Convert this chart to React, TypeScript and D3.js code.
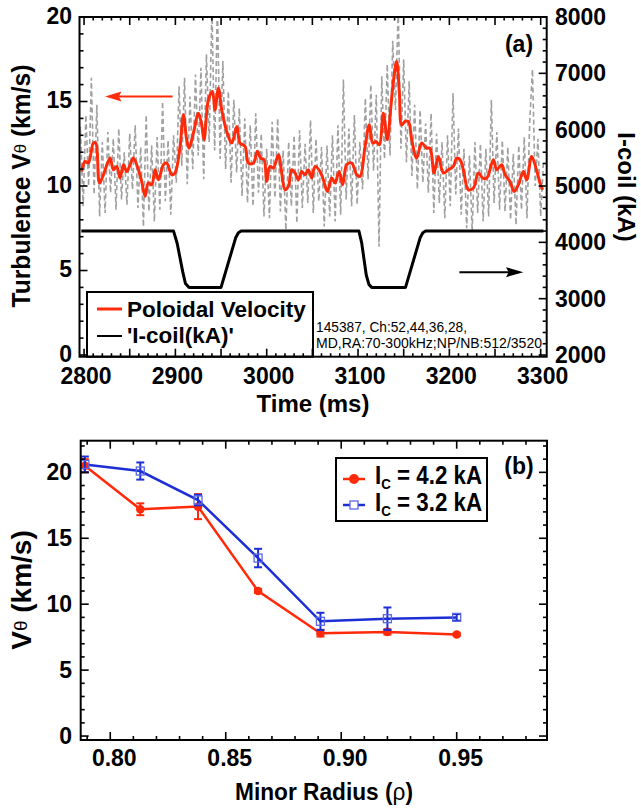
import React from "react";
import * as d3 from "d3";

// ---------------- Panel (a) data ----------------
const velTime = [
  2797.4, 2801.1, 2804.7, 2810.2, 2812.8, 2816.8, 2821.2, 2828.5, 2832.1, 2835.8,
  2839.4, 2843.1, 2846.7, 2850.4, 2854.0, 2859.5, 2863.1, 2866.8, 2870.4, 2874.1,
  2877.7, 2881.4, 2886.9, 2890.5, 2896.0, 2899.6, 2905.1, 2908.8, 2912.4, 2915.0,
  2919.7, 2925.2, 2928.8, 2931.4, 2936.1, 2940.5, 2943.4, 2947.1, 2950.7, 2956.2,
  2961.7, 2967.2, 2970.8, 2976.3, 2979.9, 2985.4, 2989.8, 2993.4, 2997.1, 3000.0,
  3003.6, 3007.3, 3012.8, 3016.4, 3020.1, 3023.7, 3027.4, 3031.0, 3034.7, 3038.3,
  3042.0, 3045.6, 3049.3, 3052.9, 3058.4, 3062.0, 3066.4, 3071.2, 3074.8, 3079.2,
  3083.2, 3087.6, 3093.1, 3098.5, 3102.2, 3107.7, 3112.4, 3116.1, 3119.7, 3123.4,
  3127.7, 3132.1, 3135.8, 3139.4, 3142.3, 3145.3, 3147.8, 3151.5, 3155.1, 3158.8,
  3164.2, 3169.7, 3175.2, 3178.8, 3183.2, 3188.0, 3193.4, 3198.9, 3204.4, 3208.0,
  3211.7, 3215.3, 3220.8, 3226.3, 3231.8, 3236.5, 3240.9, 3248.2, 3251.8, 3257.3,
  3261.0, 3266.4, 3270.8, 3275.6, 3281.0, 3284.7, 3290.1, 3294.9, 3299.3, 3302.2,
];
const velValue = [
  10.86, 11.45, 11.36, 12.54, 12.54, 10.18, 10.67, 11.65, 10.96, 11.16,
  10.47, 11.26, 10.86, 11.26, 11.65, 10.96, 10.27, 9.39, 10.18, 10.08,
  10.96, 10.37, 11.26, 11.36, 10.67, 10.77, 12.34, 14.21, 12.73, 12.24,
  13.13, 14.31, 13.62, 12.73, 15.10, 15.59, 14.51, 15.79, 14.51, 13.23,
  12.54, 13.52, 12.54, 12.34, 11.36, 11.36, 12.05, 11.65, 11.55, 10.27,
  11.16, 11.06, 11.85, 10.77, 9.78, 9.98, 10.96, 10.77, 10.37, 10.86,
  10.67, 10.96, 10.47, 11.16, 10.86, 10.37, 9.68, 10.47, 10.18, 10.86,
  10.08, 11.26, 11.36, 10.67, 10.57, 12.34, 13.62, 12.54, 12.64, 12.44,
  14.31, 12.73, 14.61, 16.48, 17.36, 15.49, 13.62, 13.82, 13.82, 12.73,
  11.65, 12.54, 12.24, 12.24, 10.77, 11.75, 10.77, 10.96, 11.16, 11.65,
  11.55, 10.96, 9.78, 9.88, 10.77, 10.47, 10.47, 11.55, 10.96, 11.26,
  10.67, 10.27, 9.68, 10.08, 10.86, 10.37, 11.75, 11.06, 10.18, 9.78,
];
// raw (unsmoothed) velocity, sampled every 3 ms from 2793 ms
const rawStart = 2793;
const rawStep = 3;
const rawValue = [
  9.0, 13.5, 8.8, 14.2, 10.0, 16.4, 9.5, 14.8, 8.2, 12.6,
  8.4, 13.2, 9.6, 12.8, 8.6, 13.4, 9.2, 12.0, 8.9, 13.1,
  9.8, 13.6, 8.7, 12.3, 7.6, 14.2, 8.5, 12.4, 7.9, 12.9,
  8.6, 15.0, 9.1, 12.7, 8.3, 13.0, 10.2, 15.9, 11.2, 16.4,
  10.1, 15.3, 11.0, 16.6, 11.8, 17.0, 10.4, 17.8, 12.6, 20.5,
  12.1, 20.8, 11.6, 17.4, 11.0, 15.6, 10.2, 15.1, 10.8, 14.6,
  9.4, 14.0, 9.0, 13.6, 8.8, 14.3, 9.6, 13.1, 8.2, 12.2,
  8.1, 13.8, 9.3, 14.0, 8.5, 12.1, 7.4, 12.6, 8.8, 13.0,
  7.8, 13.3, 8.7, 12.5, 9.0, 13.9, 8.4, 12.8, 9.1, 12.3,
  7.6, 12.4, 8.2, 13.0, 7.9, 13.6, 8.3, 16.3, 9.2, 13.4,
  8.8, 14.2, 8.9, 12.6, 9.8, 15.2, 10.4, 16.0, 10.9, 15.4,
  6.4, 16.5, 11.6, 17.2, 11.8, 18.6, 14.5, 20.5, 12.2, 17.5,
  11.4, 16.2, 10.6, 14.8, 9.8, 14.5, 10.2, 13.7, 9.6, 14.3,
  8.4, 13.1, 9.0, 12.6, 8.1, 13.0, 8.8, 15.5, 9.5, 13.4,
  8.3, 12.2, 7.5, 11.8, 7.3, 12.6, 8.4, 12.5, 7.9, 12.2,
  8.2, 15.1, 9.0, 13.2, 8.6, 12.7, 8.5, 12.3, 8.0, 11.9,
  7.7, 12.4, 8.6, 12.9, 8.1, 13.8, 16.9, 10.0, 12.8, 8.2, 11.4,
];
const coilTime = [2797, 2898, 2902, 2908, 2911, 2915, 2950, 2966, 2969, 2972, 3101, 3104, 3109, 3112, 3115, 3152, 3168, 3171, 3174, 3303];
const coilValue = [4200, 4200, 3980, 3480, 3270, 3200, 3200, 4080, 4170, 4200, 4200, 3990, 3420, 3250, 3200, 3200, 4080, 4170, 4200, 4200];
const timeTicks = [2800, 2900, 3000, 3100, 3200, 3300];
const velTicks = [0, 5, 10, 15, 20];
const coilTicks = [2000, 3000, 4000, 5000, 6000, 7000, 8000];

// ---------------- Panel (b) data ----------------
const rho = [0.789, 0.813, 0.838, 0.864, 0.891, 0.92, 0.95];
const v42 = [20.5, 17.2, 17.4, 11.0, 7.8, 7.9, 7.7];
const e42 = [0.5, 0.45, 0.95, 0.15, 0.25, 0.2, 0.1];
const v32 = [20.6, 20.1, 17.9, 13.5, 8.7, 8.9, 9.0];
const e32 = [0.6, 0.65, 0.4, 0.7, 0.65, 0.85, 0.25];
const rhoTicks = [0.8, 0.85, 0.9, 0.95];
const vTicks = [0, 5, 10, 15, 20];

const FONT = "'Liberation Sans', Arial, Helvetica, sans-serif";
const RED = "#ff2a0a";
const BLUE = "#1c2fd4";

export default function App() {
  // scales panel (a)
  const xA = d3.scaleLinear().domain([2795, 3306.6]).range([79.5, 546.7]);
  const yA = d3.scaleLinear().domain([-0.1, 20]).range([356.7, 17]);
  const yA2 = d3.scaleLinear().domain([1970, 8000]).range([356.7, 17]);
  // scales panel (b)
  const xB = d3.scaleLinear().domain([0.7872, 0.9891]).range([80.7, 547]);
  const yB = d3.scaleLinear().domain([-0.3, 22.4]).range([740, 440.7]);

  const lineA = d3.line<[number, number]>().x((d) => xA(d[0])).y((d) => yA(d[1]));
  const smoothA = d3
    .line<[number, number]>()
    .x((d) => xA(d[0]))
    .y((d) => yA(d[1]))
    .curve(d3.curveCatmullRom);
  const coilLine = d3.line<[number, number]>().x((d) => xA(d[0])).y((d) => yA2(d[1]));
  const lineB = d3.line<[number, number]>().x((d) => xB(d[0])).y((d) => yB(d[1]));

  const rawPts: [number, number][] = rawValue.map((v, i) => [rawStart + i * rawStep, v]);
  const velPts: [number, number][] = velValue.map((v, i) => [velTime[i], v]);
  const coilPts: [number, number][] = coilTime.map((t, i) => [t, coilValue[i]]);
  const p42: [number, number][] = rho.map((r, i) => [r, v42[i]]);
  const p32: [number, number][] = rho.map((r, i) => [r, v32[i]]);

  const [aL, aR] = xA.range();
  const [aB, aT] = yA.range();
  const [bL, bR] = xB.range();
  const [bB, bT] = yB.range();

  const tA = d3.range(2800, 3301, 10);
  const lA = d3.range(0, 21, 1);
  const rA = d3.range(2000, 8001, 200);
  const tB = d3.range(79, 99, 1);
  const lB = d3.range(0, 23, 1);

  const tick = { stroke: "#000", strokeWidth: 1.6 };
  const labelStyle = { fontFamily: FONT, fontWeight: 700 as const, fontSize: 23 };

  const redArrowY = yA(15.3);
  const blackArrowY = yA2(3470);

  return (
    <svg
      width={641}
      height={809}
      style={{ position: "absolute", left: 0, top: 0, background: "#fff" }}
    >
      <defs>
        <clipPath id="clipA">
          <rect x={aL} y={aT} width={aR - aL} height={aB - aT} />
        </clipPath>
      </defs>
      <rect x={0} y={0} width={641} height={809} fill="#fff" />

      {/* ================= Panel (a) ================= */}
      <g clipPath="url(#clipA)">
        <path
          d={lineA(rawPts) || ""}
          fill="none"
          stroke="#a0a0a0"
          strokeWidth={1.6}
          strokeDasharray="5,3"
        />
        <path d={smoothA(velPts) || ""} fill="none" stroke={RED} strokeWidth={3} strokeLinejoin="round" />
        <path d={coilLine(coilPts) || ""} fill="none" stroke="#000" strokeWidth={3} strokeLinejoin="round" />
      </g>

      {/* legend (a) */}
      <rect x={87} y={292} width={226} height={aB - 292} fill="#fff" stroke="#000" strokeWidth={2} />
      <line x1={97} x2={122} y1={309} y2={309} stroke={RED} strokeWidth={3} />
      <text x={127} y={316.5} {...labelStyle} fontSize={22.5}>Poloidal Velocity</text>
      <line x1={97} x2={122} y1={336} y2={336} stroke="#000" strokeWidth={2} />
      <text x={127} y={343} {...labelStyle} fontSize={22.5}>'I-coil(kA)'</text>

      {/* shot annotation */}
      <text x={316} y={331.5} fontFamily={FONT} fontSize={14} textLength={151} lengthAdjust="spacingAndGlyphs">
        145387, Ch:52,44,36,28,
      </text>
      <text x={316} y={348} fontFamily={FONT} fontSize={14} textLength={226} lengthAdjust="spacingAndGlyphs">
        MD,RA:70-300kHz;NP/NB:512/3520
      </text>

      {/* arrows */}
      <line x1={xA(2897)} x2={xA(2835)} y1={redArrowY} y2={redArrowY} stroke={RED} strokeWidth={2} />
      <path
        d={`M${xA(2823)},${redArrowY} L${xA(2841)},${redArrowY - 5} L${xA(2838)},${redArrowY} L${xA(2841)},${redArrowY + 5} Z`}
        fill={RED}
      />
      <line x1={xA(3211)} x2={xA(3268)} y1={blackArrowY} y2={blackArrowY} stroke="#000" strokeWidth={2} />
      <path
        d={`M${xA(3281)},${blackArrowY} L${xA(3262)},${blackArrowY - 5} L${xA(3265)},${blackArrowY} L${xA(3262)},${blackArrowY + 5} Z`}
        fill="#000"
      />

      {/* frame & ticks (a) */}
      <rect x={aL} y={aT} width={aR - aL} height={aB - aT} fill="none" stroke="#000" strokeWidth={2} />
      {tA.map((t) => {
        const len = t % 50 === 0 ? 8 : 3.5;
        return (
          <g key={"ta" + t}>
            <line x1={xA(t)} x2={xA(t)} y1={aB} y2={aB - len} {...tick} />
            <line x1={xA(t)} x2={xA(t)} y1={aT} y2={aT + len} {...tick} />
          </g>
        );
      })}
      {lA.map((v) => {
        const len = v % 5 === 0 ? 8 : 4;
        return <line key={"la" + v} x1={aL} x2={aL + len} y1={yA(v)} y2={yA(v)} {...tick} />;
      })}
      {rA.map((v) => {
        const len = v % 1000 === 0 ? 8 : 4;
        return <line key={"ra" + v} x1={aR} x2={aR - len} y1={yA2(v)} y2={yA2(v)} {...tick} />;
      })}
      {timeTicks.map((t) => (
        <text key={"tl" + t} x={xA(t) + 2} y={384} textAnchor="middle" {...labelStyle}>
          {t}
        </text>
      ))}
      {velTicks.map((v) => (
        <text key={"vl" + v} x={72} y={yA(v) + 6.5} textAnchor="end" {...labelStyle}>
          {v}
        </text>
      ))}
      {coilTicks.map((v) => (
        <text key={"cl" + v} x={555} y={yA2(v) + 8} textAnchor="start" {...labelStyle}>
          {v}
        </text>
      ))}
      <text x={519} y={52} textAnchor="middle" {...labelStyle}>(a)</text>

      {/* axis titles (a) */}
      <text x={313} y={412} textAnchor="middle" {...labelStyle} fontSize={24}>Time (ms)</text>
      <text
        transform="translate(30,186) rotate(-90)"
        textAnchor="middle"
        {...labelStyle}
        fontSize={25}
        textLength={243}
        lengthAdjust="spacingAndGlyphs"
      >
        Turbulence V
        <tspan fontWeight={400} fontSize={17} dy={-4}>θ</tspan>
        <tspan dy={4}> (km/s)</tspan>
      </text>
      <text transform="translate(618,187) rotate(90)" textAnchor="middle" {...labelStyle} fontSize={24}>
        I-coil (kA)
      </text>

      {/* ================= Panel (b) ================= */}
      <path d={lineB(p42) || ""} fill="none" stroke={RED} strokeWidth={2.5} />
      <path d={lineB(p32) || ""} fill="none" stroke={BLUE} strokeWidth={2.5} />
      {rho.map((r, i) => (
        <g key={"eb" + i}>
          <line x1={xB(r)} x2={xB(r)} y1={yB(v42[i] - e42[i])} y2={yB(v42[i] + e42[i])} stroke={RED} strokeWidth={2} />
          <line x1={xB(r) - 4} x2={xB(r) + 4} y1={yB(v42[i] - e42[i])} y2={yB(v42[i] - e42[i])} stroke={RED} strokeWidth={2} />
          <line x1={xB(r) - 4} x2={xB(r) + 4} y1={yB(v42[i] + e42[i])} y2={yB(v42[i] + e42[i])} stroke={RED} strokeWidth={2} />
          <circle cx={xB(r)} cy={yB(v42[i])} r={4.3} fill={RED} />
          <line x1={xB(r)} x2={xB(r)} y1={yB(v32[i] - e32[i])} y2={yB(v32[i] + e32[i])} stroke={BLUE} strokeWidth={2} />
          <line x1={xB(r) - 4} x2={xB(r) + 4} y1={yB(v32[i] - e32[i])} y2={yB(v32[i] - e32[i])} stroke={BLUE} strokeWidth={2} />
          <line x1={xB(r) - 4} x2={xB(r) + 4} y1={yB(v32[i] + e32[i])} y2={yB(v32[i] + e32[i])} stroke={BLUE} strokeWidth={2} />
          <rect x={xB(r) - 4} y={yB(v32[i]) - 4} width={8} height={8} fill="none" stroke="#5a68e6" strokeWidth={1.3} />
        </g>
      ))}

      {/* legend (b) */}
      <rect x={336} y={458} width={151} height={63} fill="#fff" stroke="#000" strokeWidth={2} />
      <line x1={343} x2={365} y1={479} y2={479} stroke={RED} strokeWidth={2.5} />
      <circle cx={354} cy={479} r={5} fill={RED} />
      <text x={375} y={484} {...labelStyle} fontSize={25} textLength={107} lengthAdjust="spacingAndGlyphs">
        I<tspan fontSize={15} dy={5}>C</tspan>
        <tspan dy={-5}> = 4.2 kA</tspan>
      </text>
      <line x1={343} x2={365} y1={505} y2={505} stroke={BLUE} strokeWidth={2.5} />
      <rect x={350} y={501} width={8} height={8} fill="#fff" stroke="#5a68e6" strokeWidth={1.3} />
      <text x={375} y={510.5} {...labelStyle} fontSize={25} textLength={107} lengthAdjust="spacingAndGlyphs">
        I<tspan fontSize={15} dy={5}>C</tspan>
        <tspan dy={-5}> = 3.2 kA</tspan>
      </text>

      {/* frame & ticks (b) */}
      <rect x={bL} y={bT} width={bR - bL} height={bB - bT} fill="none" stroke="#000" strokeWidth={2} />
      {tB.map((k) => {
        const len = k % 5 === 0 ? 8 : 4;
        const x = xB(k / 100);
        return (
          <g key={"tb" + k}>
            <line x1={x} x2={x} y1={bB} y2={bB - len} {...tick} />
            <line x1={x} x2={x} y1={bT} y2={bT + len} {...tick} />
          </g>
        );
      })}
      {lB.map((v) => {
        const len = v % 5 === 0 ? 8 : 4;
        return (
          <g key={"lb" + v}>
            <line x1={bL} x2={bL + len} y1={yB(v)} y2={yB(v)} {...tick} />
            <line x1={bR} x2={bR - len} y1={yB(v)} y2={yB(v)} {...tick} />
          </g>
        );
      })}
      {rhoTicks.map((r) => (
        <text key={"rl" + r} x={xB(r) + 4} y={766} textAnchor="middle" {...labelStyle}>
          {r.toFixed(2)}
        </text>
      ))}
      {vTicks.map((v) => (
        <text key={"vb" + v} x={72} y={yB(v) + 8} textAnchor="end" {...labelStyle}>
          {v}
        </text>
      ))}
      <text x={519} y={474} textAnchor="middle" {...labelStyle}>(b)</text>

      <text
        x={324}
        y={800}
        textAnchor="middle"
        {...labelStyle}
        fontSize={24}
        textLength={178}
        lengthAdjust="spacingAndGlyphs"
      >
        Minor Radius (<tspan fontWeight={400}>ρ</tspan>)
      </text>
      <text transform="translate(31,590) rotate(-90)" textAnchor="middle" {...labelStyle} fontSize={28}>
        V<tspan fontWeight={400} fontSize={19} dy={-4}>θ</tspan>
        <tspan dy={4}> (km/s)</tspan>
      </text>
    </svg>
  );
}
